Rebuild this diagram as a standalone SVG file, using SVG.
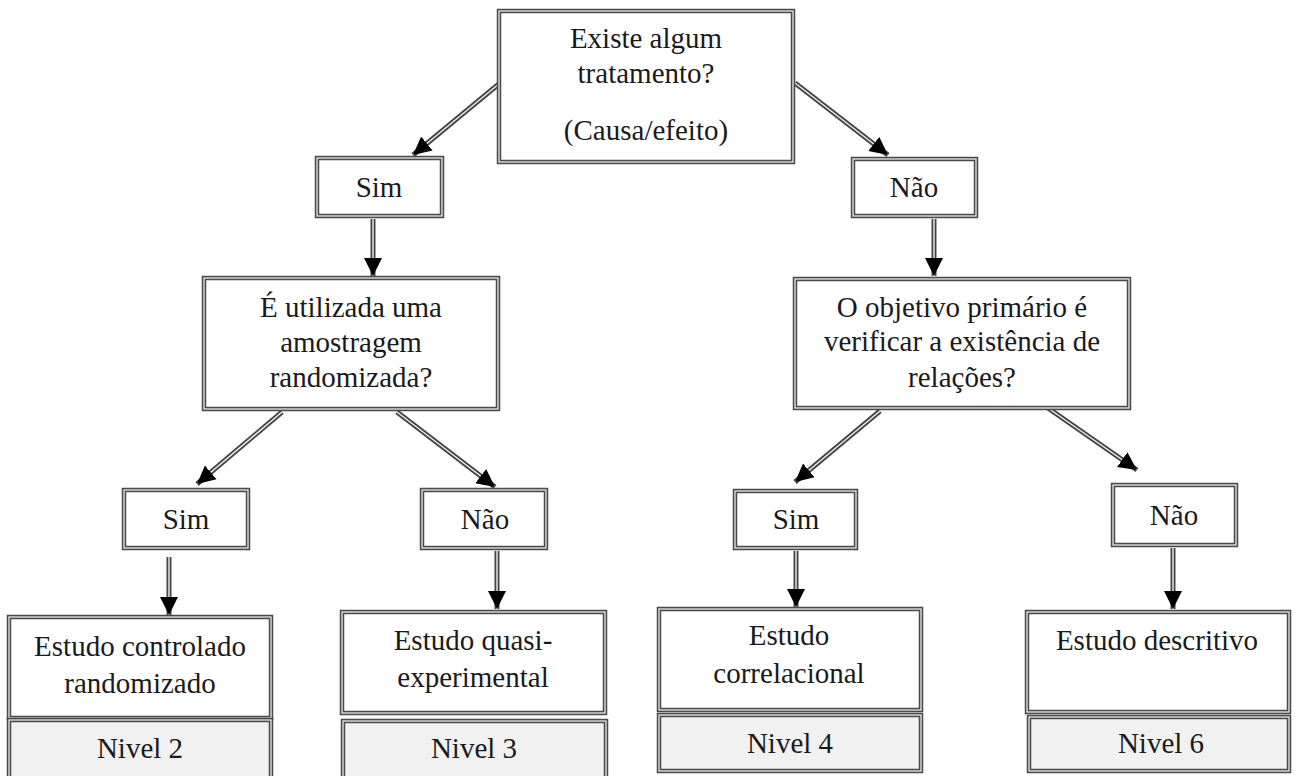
<svg xmlns="http://www.w3.org/2000/svg" width="1300" height="776" viewBox="0 0 1300 776">
<style>
.bo{fill:#fff;stroke:#4a4a4a;stroke-width:4.5}
.bi{fill:none;stroke:#e6e6e6;stroke-width:1.3}
.lv{fill:#f1f1f1;stroke:#4a4a4a;stroke-width:4.5}
text{font-size:29px;fill:#1a1a1a;text-anchor:middle}
.so{stroke:#444;stroke-width:5;fill:none}
.si{stroke:#eee;stroke-width:1.4;fill:none}
.hd{stroke:none;fill:none;marker-end:url(#ah)}
</style>
<defs>
<marker id="ah" markerUnits="userSpaceOnUse" markerWidth="20" markerHeight="20" refX="18" refY="10" orient="auto"><path d="M0,1 L18,10 L0,19 z" fill="#000"/></marker>
</defs>
<rect width="1300" height="776" fill="#fff"/>
<g id="connectors">
<g><line class="so" x1="500" y1="83" x2="413" y2="155"/><line class="si" x1="500" y1="83" x2="413" y2="155"/><line class="hd" x1="500" y1="83" x2="413" y2="155"/></g>
<g><line class="so" x1="795" y1="83" x2="888" y2="155"/><line class="si" x1="795" y1="83" x2="888" y2="155"/><line class="hd" x1="795" y1="83" x2="888" y2="155"/></g>
<g><line class="so" x1="373" y1="219" x2="373" y2="276"/><line class="si" x1="373" y1="219" x2="373" y2="276"/><line class="hd" x1="373" y1="219" x2="373" y2="276"/></g>
<g><line class="so" x1="934" y1="219" x2="934" y2="276"/><line class="si" x1="934" y1="219" x2="934" y2="276"/><line class="hd" x1="934" y1="219" x2="934" y2="276"/></g>
<g><line class="so" x1="282" y1="412" x2="197" y2="484"/><line class="si" x1="282" y1="412" x2="197" y2="484"/><line class="hd" x1="282" y1="412" x2="197" y2="484"/></g>
<g><line class="so" x1="397" y1="412" x2="495" y2="487"/><line class="si" x1="397" y1="412" x2="495" y2="487"/><line class="hd" x1="397" y1="412" x2="495" y2="487"/></g>
<g><line class="so" x1="880" y1="411" x2="795" y2="482"/><line class="si" x1="880" y1="411" x2="795" y2="482"/><line class="hd" x1="880" y1="411" x2="795" y2="482"/></g>
<g><line class="so" x1="1045" y1="406" x2="1137" y2="470"/><line class="si" x1="1045" y1="406" x2="1137" y2="470"/><line class="hd" x1="1045" y1="406" x2="1137" y2="470"/></g>
<g><line class="so" x1="169" y1="557" x2="169" y2="615"/><line class="si" x1="169" y1="557" x2="169" y2="615"/><line class="hd" x1="169" y1="557" x2="169" y2="615"/></g>
<g><line class="so" x1="497" y1="551" x2="497" y2="609"/><line class="si" x1="497" y1="551" x2="497" y2="609"/><line class="hd" x1="497" y1="551" x2="497" y2="609"/></g>
<g><line class="so" x1="796" y1="551" x2="796" y2="607"/><line class="si" x1="796" y1="551" x2="796" y2="607"/><line class="hd" x1="796" y1="551" x2="796" y2="607"/></g>
<g><line class="so" x1="1173" y1="548" x2="1173" y2="609"/><line class="si" x1="1173" y1="548" x2="1173" y2="609"/><line class="hd" x1="1173" y1="548" x2="1173" y2="609"/></g>
</g>
<g font-family="Liberation Serif, Times New Roman, serif">
<g id="q1">
<rect class="bo" x="499" y="11" width="294" height="151"/><rect class="bi" x="499" y="11" width="294" height="151"/>
<text x="646" y="48">Existe algum</text>
<text x="646" y="83">tratamento?</text>
<text x="646" y="140">(Causa/efeito)</text>
</g>
<g id="sim1">
<rect class="bo" x="317" y="158" width="125" height="58"/><rect class="bi" x="317" y="158" width="125" height="58"/>
<text x="379" y="197">Sim</text>
</g>
<g id="nao1">
<rect class="bo" x="853" y="159" width="123" height="57"/><rect class="bi" x="853" y="159" width="123" height="57"/>
<text x="914" y="197">Não</text>
</g>
<g id="q2">
<rect class="bo" x="204" y="278" width="294" height="131"/><rect class="bi" x="204" y="278" width="294" height="131"/>
<text x="351" y="317">É utilizada uma</text>
<text x="351" y="352">amostragem</text>
<text x="351" y="387">randomizada?</text>
</g>
<g id="q3">
<rect class="bo" x="795" y="279" width="334" height="129"/><rect class="bi" x="795" y="279" width="334" height="129"/>
<text x="962" y="317">O objetivo primário é</text>
<text x="962" y="351">verificar a existência de</text>
<text x="962" y="387">relações?</text>
</g>
<g id="sim2">
<rect class="bo" x="124" y="490" width="124" height="58"/><rect class="bi" x="124" y="490" width="124" height="58"/>
<text x="186" y="529">Sim</text>
</g>
<g id="nao2">
<rect class="bo" x="422" y="490" width="124" height="58"/><rect class="bi" x="422" y="490" width="124" height="58"/>
<text x="485" y="529">Não</text>
</g>
<g id="sim3">
<rect class="bo" x="735" y="491" width="121" height="57"/><rect class="bi" x="735" y="491" width="121" height="57"/>
<text x="796" y="529">Sim</text>
</g>
<g id="nao3">
<rect class="bo" x="1113" y="485" width="123" height="60"/><rect class="bi" x="1113" y="485" width="123" height="60"/>
<text x="1174" y="525">Não</text>
</g>
<g id="r1">
<rect class="bo" x="9" y="617" width="262" height="101"/><rect class="bi" x="9" y="617" width="262" height="101"/>
<text x="140" y="656">Estudo controlado</text>
<text x="140" y="693">randomizado</text>
<rect class="lv" x="9" y="720" width="262" height="70"/><rect class="bi" x="9" y="720" width="262" height="70"/>
<text x="140" y="758">Nivel 2</text>
</g>
<g id="r2">
<rect class="bo" x="342" y="612" width="263" height="101"/><rect class="bi" x="342" y="612" width="263" height="101"/>
<text x="473" y="650">Estudo quasi-</text>
<text x="473" y="687">experimental</text>
<rect class="lv" x="343" y="721" width="263" height="70"/><rect class="bi" x="343" y="721" width="263" height="70"/>
<text x="474" y="758">Nivel 3</text>
</g>
<g id="r3">
<rect class="bo" x="659" y="609" width="262" height="101"/><rect class="bi" x="659" y="609" width="262" height="101"/>
<text x="789" y="645">Estudo</text>
<text x="789" y="683">correlacional</text>
<rect class="lv" x="659" y="715" width="262" height="56"/><rect class="bi" x="659" y="715" width="262" height="56"/>
<text x="790" y="753">Nivel 4</text>
</g>
<g id="r4">
<rect class="bo" x="1027" y="612" width="262" height="100"/><rect class="bi" x="1027" y="612" width="262" height="100"/>
<text x="1157" y="650">Estudo  descritivo</text>
<rect class="lv" x="1029" y="717" width="260" height="54"/><rect class="bi" x="1029" y="717" width="260" height="54"/>
<text x="1161" y="753">Nivel 6</text>
</g>
</g>
</svg>
